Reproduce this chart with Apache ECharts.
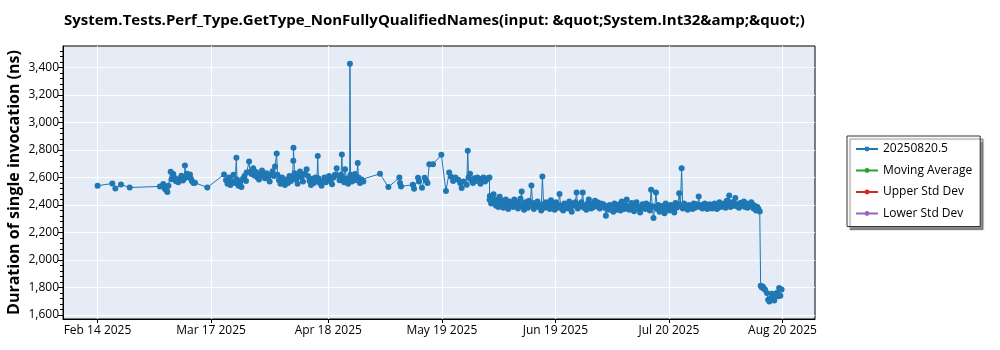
<!DOCTYPE html>
<html><head><meta charset="utf-8">
<script src="https://cdn.jsdelivr.net/npm/echarts@6/dist/echarts.min.js"></script>
<style>html,body{margin:0;padding:0;background:#fff}#c{width:1000px;height:350px}</style>
</head><body><div id="c"></div>
<script>
const chartTitle = 'System.Tests.Perf_Type.GetType_NonFullyQualifiedNames(input: &quot;System.Int32&amp;&quot;)';
const yAxisTitle = 'Duration of single invocation (ns)';
const seriesNames = ['20250820.5', 'Moving Average', 'Upper Std Dev', 'Lower Std Dev'];
const seriesColors = ['#1f77b4', '#2ca02c', '#d62728', '#9467bd'];
const xTickDates = ['2025-02-14', '2025-03-17', '2025-04-18', '2025-05-19', '2025-06-19', '2025-07-20', '2025-08-20'];
const xTickLabels = ['Feb 14 2025', 'Mar 17 2025', 'Apr 18 2025', 'May 19 2025', 'Jun 19 2025', 'Jul 20 2025', 'Aug 20 2025'];
const yTickValues = [1600, 1800, 2000, 2200, 2400, 2600, 2800, 3000, 3200, 3400];

// run timestamps (2025, local time) and measured durations (ns)
const runDates = [
 '02-14 00:30','02-18 01:00','02-18 21:00','02-20 10:00','02-22 19:00',
 '03-03 01:00','03-03 23:00','03-04 07:00','03-04 10:00','03-04 21:00','03-05 02:00','03-05 09:00','03-05 23:30','03-06 05:00','03-06 16:30',
 '03-07 00:00','03-07 10:00','03-08 01:30','03-08 12:00','03-08 22:00','03-09 08:00','03-09 18:00','03-09 21:00','03-10 02:00','03-10 10:00',
 '03-10 20:00','03-11 06:00','03-11 12:00','03-11 19:00','03-12 04:00','03-12 15:00','03-15 23:30','03-20 13:00',
 '03-21 02:00','03-21 12:00','03-21 22:00','03-22 07:00','03-22 17:00','03-23 03:00','03-23 13:00','03-23 22:00','03-24 02:00','03-24 12:00',
 '03-24 22:00','03-25 07:00','03-25 17:00','03-26 03:00','03-26 13:00','03-26 17:00','03-27 09:00','03-27 15:00','03-28 01:00','03-28 12:00',
 '03-28 20:00','03-29 07:00','03-29 16:00','03-30 02:00','03-30 12:00','03-30 22:00','03-31 08:00','03-31 17:00','04-01 03:00','04-01 13:00',
 '04-02 00:00','04-02 09:00','04-02 19:00','04-03 05:00','04-03 11:00','04-03 22:00','04-04 03:00','04-04 13:00','04-04 23:00','04-05 09:00',
 '04-05 19:00','04-06 04:00','04-06 14:00','04-07 00:00','04-07 10:00','04-07 20:00','04-08 05:00','04-08 11:00','04-08 12:00','04-08 19:00',
 '04-09 05:00','04-09 15:00','04-10 00:00','04-10 07:00','04-10 17:00','04-11 02:00','04-11 12:00','04-12 02:00','04-12 11:00','04-12 21:00',
 '04-13 07:00','04-13 17:00','04-14 02:00','04-14 12:00','04-14 22:00','04-15 03:00','04-15 07:00','04-15 17:00','04-16 04:00','04-16 13:00',
 '04-16 23:00','04-17 09:00','04-17 19:00','04-18 05:00','04-18 15:00','04-19 01:00','04-19 11:00','04-19 20:00','04-20 07:00','04-20 16:00',
 '04-21 02:00','04-21 12:00','04-21 17:00','04-21 22:00','04-22 08:00','04-22 14:00','04-23 00:00','04-23 10:00','04-23 20:00','04-23 22:00',
 '04-24 02:00','04-24 12:00','04-24 21:00','04-25 07:00','04-25 17:00','04-26 01:00','04-26 06:00','04-26 16:00','04-27 02:00','04-27 14:00',
 '05-02 03:00','05-04 10:00','05-07 10:00','05-07 14:00','05-07 21:00','05-11 02:00','05-11 10:00','05-12 12:00','05-12 19:00','05-13 14:00',
 '05-14 07:00','05-14 17:00','05-15 02:00','05-15 14:00','05-16 14:00','05-18 21:00','05-20 03:00','05-21 00:00','05-21 10:00','05-22 02:00',
 '05-22 17:00','05-23 12:00','05-24 00:00','05-24 10:00','05-24 22:00','05-25 19:00','05-26 02:00','05-26 07:00','05-26 17:00','05-27 02:00',
 '05-27 12:00','05-27 22:00','05-28 07:00','05-28 17:00','05-29 03:00','05-29 13:00','05-29 23:00','05-30 09:00','05-30 19:00','05-31 05:00',
 '05-31 14:00','06-01 00:00','06-01 01:00',
 '06-01 03:00','06-01 11:00','06-01 19:00','06-02 03:00','06-02 11:00','06-02 19:00','06-03 03:00','06-03 11:00','06-03 19:00',
 '06-04 03:00','06-04 11:00','06-04 19:00','06-05 03:00','06-05 11:00','06-05 19:00','06-06 03:00','06-06 11:00','06-06 19:00',
 '06-07 03:00','06-07 11:00','06-07 19:00','06-08 03:00','06-08 11:00','06-08 19:00','06-09 03:00','06-09 11:00','06-09 19:00',
 '06-10 03:00','06-10 11:00','06-10 19:00','06-11 03:00','06-11 11:00','06-11 19:00','06-12 03:00','06-12 11:00','06-12 19:00',
 '06-13 03:00','06-13 11:00','06-13 19:00','06-14 03:00','06-14 11:00','06-14 19:00','06-15 03:00','06-15 11:00','06-15 19:00',
 '06-16 03:00','06-16 11:00','06-16 19:00','06-17 03:00','06-17 11:00','06-17 19:00','06-18 03:00','06-18 11:00','06-18 19:00',
 '06-19 03:00','06-19 11:00','06-19 19:00','06-20 03:00','06-20 11:00','06-20 19:00','06-21 03:00','06-21 11:00','06-21 19:00',
 '06-22 03:00','06-22 11:00','06-22 19:00','06-23 03:00','06-23 11:00','06-23 19:00','06-24 03:00','06-24 11:00','06-24 19:00',
 '06-25 03:00','06-25 11:00','06-25 19:00','06-26 03:00','06-26 11:00','06-26 19:00','06-27 03:00','06-27 11:00','06-27 19:00',
 '06-28 03:00','06-28 11:00','06-28 19:00','06-29 03:00','06-29 11:00','06-29 19:00','06-30 03:00','06-30 11:00','06-30 19:00',
 '07-01 03:00','07-01 11:00','07-01 19:00','07-02 03:00','07-02 11:00','07-02 19:00','07-03 03:00','07-03 11:00','07-03 19:00',
 '07-04 03:00','07-04 11:00','07-04 19:00','07-05 03:00','07-05 11:00','07-05 19:00','07-06 03:00','07-06 11:00','07-06 19:00',
 '07-07 03:00','07-07 11:00','07-07 19:00','07-08 03:00','07-08 11:00','07-08 19:00','07-09 03:00','07-09 11:00','07-09 19:00',
 '07-10 03:00','07-10 11:00','07-10 19:00','07-11 03:00','07-11 11:00','07-11 19:00','07-12 03:00','07-12 11:00','07-12 19:00',
 '07-13 03:00','07-13 11:00','07-13 19:00','07-14 03:00','07-14 11:00','07-14 19:00','07-15 03:00','07-15 11:00','07-15 19:00',
 '07-16 03:00','07-16 11:00','07-16 19:00','07-17 03:00','07-17 11:00','07-17 19:00','07-18 03:00','07-18 11:00','07-18 19:00',
 '07-19 03:00','07-19 11:00','07-19 19:00','07-20 03:00','07-20 11:00','07-20 19:00','07-21 03:00','07-21 11:00','07-21 19:00',
 '07-22 03:00','07-22 11:00','07-22 19:00','07-23 03:00','07-23 11:00','07-23 19:00','07-24 03:00','07-24 11:00','07-24 19:00',
 '07-25 03:00','07-25 11:00','07-25 19:00','07-26 03:00','07-26 11:00','07-26 19:00','07-27 03:00','07-27 11:00','07-27 19:00',
 '07-28 03:00','07-28 11:00','07-28 19:00','07-29 03:00','07-29 11:00','07-29 19:00','07-30 03:00','07-30 11:00','07-30 19:00',
 '07-31 03:00','07-31 11:00','07-31 19:00','08-01 03:00','08-01 11:00','08-01 19:00','08-02 03:00','08-02 11:00','08-02 19:00',
 '08-03 03:00','08-03 11:00','08-03 19:00','08-04 03:00','08-04 11:00','08-04 19:00','08-05 03:00','08-05 11:00','08-05 19:00',
 '08-06 03:00','08-06 11:00','08-06 19:00','08-07 03:00','08-07 11:00','08-07 19:00','08-08 03:00','08-08 11:00','08-08 19:00',
 '08-09 03:00','08-09 11:00','08-09 19:00','08-10 03:00','08-10 11:00','08-10 19:00','08-11 03:00','08-11 11:00','08-11 19:00',
 '08-12 03:00','08-12 11:00','08-12 19:00','08-13 03:00','08-13 11:00','08-13 19:00',
 '08-14 01:00','08-14 08:00','08-14 15:00','08-15 00:00','08-15 06:00','08-15 18:00','08-16 02:00','08-16 10:00','08-16 18:00',
 '08-17 02:00','08-17 10:00','08-17 18:00','08-18 02:00','08-18 10:00','08-18 18:00','08-19 02:00','08-19 10:00','08-19 18:00'
];
const durations = [
 2540,2556,2520,2549,2527,
 2535,2552,2530,2516,2505,2494,2540,2641,2588,2625,
 2598,2572,2566,2595,2612,2578,2595,2687,2600,2628,
 2605,2622,2590,2572,2559,2562,2527,2622,
 2580,2555,2600,2545,2570,2620,2560,2743,2585,2540,
 2565,2530,2590,2610,2575,2636,2716,2640,2625,2668,
 2615,2640,2600,2585,2625,2650,2610,2595,2630,2605,
 2570,2620,2645,2610,2680,2775,2620,2580,2555,2600,
 2570,2545,2585,2560,2610,2575,2600,2721,2816,2630,
 2585,2555,2610,2644,2600,2570,2625,2660,2610,2575,
 2545,2590,2560,2600,2580,2756,2595,2560,2540,2575,
 2600,2565,2590,2610,2575,2550,2600,2620,2668,2615,
 2580,2620,2767,2600,2565,2660,2590,2555,2600,3427,
 2620,2570,2595,2625,2580,2705,2600,2560,2585,2571,
 2627,2530,2600,2560,2535,2547,2518,2598,2570,2525,
 2598,2580,2560,2697,2697,2765,2501,2636,2607,2575,
 2600,2583,2560,2523,2570,2547,2794,2600,2627,2580,
 2560,2595,2575,2600,2585,2555,2590,2600,2570,2585,
 2595,2600,2438,
 2465,2410,2445,2478,2420,2395,2440,2385,2460,
 2405,2430,2380,2395,2440,2410,2370,2425,2400,
 2415,2385,2440,2395,2420,2375,2410,2445,2498,
 2390,2365,2420,2405,2380,2430,2395,2542,2410,
 2370,2415,2390,2425,2385,2400,2360,2607,2405,
 2380,2420,2395,2410,2370,2435,2390,2405,2365,
 2420,2380,2400,2479,2395,2370,2360,2410,2385,
 2400,2375,2425,2385,2350,2410,2395,2420,2491,
 2375,2405,2390,2420,2491,2380,2395,2365,2410,
 2440,2400,2375,2410,2385,2430,2390,2420,2400,
 2375,2410,2395,2405,2380,2321,2390,2365,2400,
 2370,2395,2350,2410,2385,2365,2380,2405,2360,
 2425,2390,2370,2400,2440,2380,2365,2395,2415,
 2385,2355,2400,2420,2390,2375,2345,2380,2405,
 2395,2370,2410,2380,2400,2360,2511,2390,2305,
 2385,2491,2370,2400,2350,2385,2370,2395,2340,
 2410,2375,2390,2360,2400,2380,2395,2345,2415,
 2380,2405,2486,2390,2668,2375,2410,2380,2395,
 2365,2400,2385,2395,2370,2410,2380,2405,2390,
 2462,2385,2400,2375,2395,2410,2390,2370,2400,
 2405,2385,2375,2395,2410,2380,2370,2400,2420,
 2385,2405,2390,2410,2380,2430,2400,2469,2385,
 2420,2395,2410,2450,2390,2405,2380,2415,2395,
 2400,2425,2385,2410,2380,2400,2390,2420,2405,
 2375,2395,2360,2385,2370,2353,
 1812,1800,1806,1790,1783,1760,1710,1698,1720,
 1754,1725,1705,1740,1760,1735,1796,1740,1785
];

const toTs = s => +new Date(s.replace(' ', 'T') + (s.length > 10 ? ':00' : 'T00:00:00'));
const seriesData = runDates.map((d, i) => [toTs('2025-' + d), durations[i]]);
const FONT = '"Segoe UI", "Open Sans", "Noto Sans", sans-serif';
const xTickTs = xTickDates.map(toTs);
const yMinor = [];
for (let v = 1600; v <= 3520; v += 40) yMinor.push(v);

const chart = echarts.init(document.getElementById('c'));
chart.setOption({
  animation: false,
  backgroundColor: '#fff',
  title: {
    text: chartTitle, left: 59, top: 8,
    textStyle: { fontFamily: FONT, fontWeight: 'bold', fontSize: 15, color: '#000' }
  },
  legend: {
    orient: 'vertical', left: 847, top: 136,
    padding: [7, 8, 7, 8], itemGap: 9.5, itemWidth: 22, itemHeight: 6,
    backgroundColor: '#fff', borderColor: '#333', borderWidth: 1,
    shadowColor: 'rgba(0,0,0,0.45)', shadowOffsetX: 3, shadowOffsetY: 3, shadowBlur: 1,
    textStyle: { fontFamily: FONT, fontSize: 12, color: '#000' },
    data: seriesNames
  },
  grid: {
    left: 63, right: 185, top: 46, bottom: 31, show: true, outerBoundsMode: 'none', containLabel: false,
    backgroundColor: '#e5ecf6', borderColor: '#000', borderWidth: 1
  },
  xAxis: {
    type: 'value',
    min: toTs('2025-02-04 14:00'),
    max: toTs('2025-08-28 21:00'),
    axisLine: { show: true, lineStyle: { color: '#000', width: 1 } },
    axisTick: { show: true, customValues: xTickTs, length: 4, lineStyle: { color: '#000' } },
    axisLabel: {
      customValues: xTickTs, color: '#000', fontSize: 12, fontFamily: FONT, margin: 6,
      formatter: v => { const i = xTickTs.indexOf(v); return i >= 0 ? xTickLabels[i] : ''; }
    },
    splitLine: { show: true, lineStyle: { color: '#fff', width: 1 } }
  },
  yAxis: [{
    type: 'value', min: 1570, max: 3557,
    name: yAxisTitle, nameLocation: 'middle', nameGap: 41, nameMoveOverlap: false,
    nameTextStyle: { fontFamily: FONT, fontWeight: 'bold', fontSize: 16, color: '#000' },
    axisLine: { show: true, lineStyle: { color: '#000', width: 1 } },
    axisTick: { show: true, customValues: yTickValues, length: 5, lineStyle: { color: '#000' } },
    axisLabel: {
      customValues: yTickValues, color: '#000', fontSize: 12, fontFamily: FONT, margin: 4,
      formatter: v => Number(v).toLocaleString('en-US')
    },
    splitLine: { show: true, lineStyle: { color: '#fff', width: 1 } }
  }, {
    type: 'value', min: 1570, max: 3557, position: 'left',
    axisLine: { show: false },
    axisTick: { show: true, customValues: yMinor, length: 3, lineStyle: { color: '#000' } },
    axisLabel: { show: false },
    splitLine: { show: false }
  }],
  series: [
    {
      name: seriesNames[0], type: 'line', data: seriesData,
      color: seriesColors[0], symbol: 'circle', symbolSize: 6, showSymbol: true,
      lineStyle: { width: 1, color: seriesColors[0] }, itemStyle: { color: seriesColors[0] }
    },
    { name: seriesNames[1], type: 'line', data: [], color: seriesColors[1], symbol: 'circle', symbolSize: 6 },
    { name: seriesNames[2], type: 'line', data: [], color: seriesColors[2], symbol: 'circle', symbolSize: 6 },
    { name: seriesNames[3], type: 'line', data: [], color: seriesColors[3], symbol: 'circle', symbolSize: 6 }
  ]
});
</script></body></html>
